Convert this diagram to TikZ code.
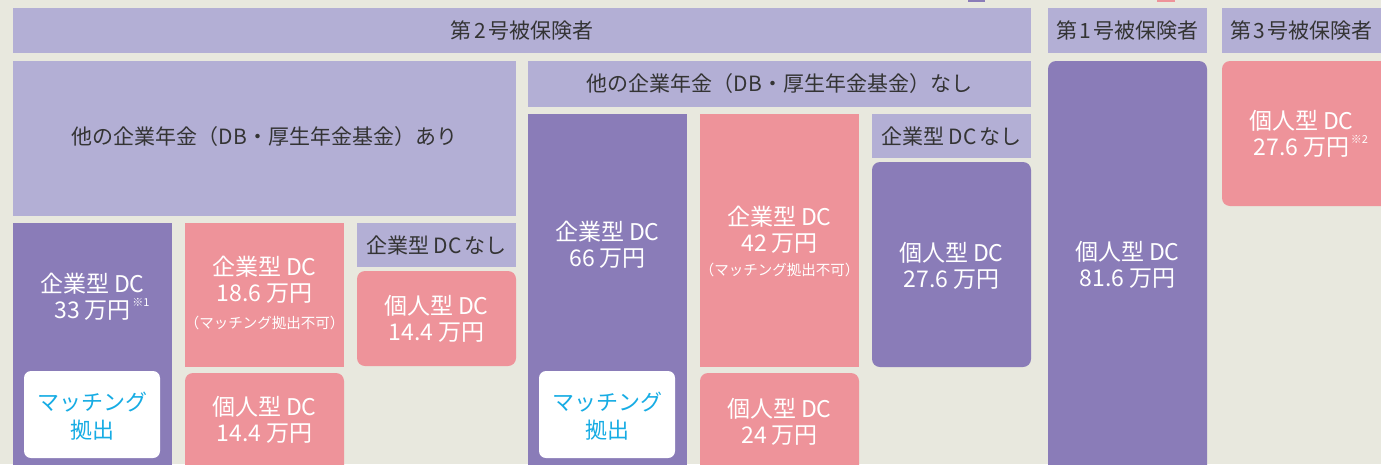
\documentclass[tikz,border=0pt]{standalone}
\usepackage{fontspec}
\setmainfont{Noto Sans CJK JP}
\definecolor{bg}{RGB}{232,232,222}
\definecolor{lav}{RGB}{179,175,213}
\definecolor{pur}{RGB}{138,124,184}
\definecolor{pinkb}{RGB}{238,147,154}
\definecolor{cyanT}{RGB}{22,172,228}
\definecolor{darkT}{RGB}{52,52,52}
\newcommand\jsp{\hspace{0.2em}}
\newcommand\hsp{\hspace{0.12em}}
\newcommand\note[1]{\makebox[0pt][l]{\raisebox{0.55em}{\fontsize{11}{11}\selectfont\,#1}}}
\begin{document}
\begin{tikzpicture}[x=1pt,y=-1pt,
  wt/.style={text=white, font=\fontsize{23}{26}\selectfont, align=center, inner sep=0pt},
  st/.style={text=white, font=\fontsize{14.5}{16}\selectfont, align=center, inner sep=0pt},
  ct/.style={text=cyanT, font=\fontsize{22}{28}\selectfont, align=center, inner sep=0pt},
  dt/.style={text=darkT, font=\fontsize{21}{24}\selectfont, inner sep=0pt},
  rnd/.style={rounded corners=8pt}
]
\useasboundingbox (0,0) rectangle (1381,464);
\clip (0,0) rectangle (1381,464);
\fill[bg] (0,0) rectangle (1381,464);

% legend squares (cut off at top)
\fill[pur] (968,-10) rectangle (985,2);
\fill[pinkb] (1157,-10) rectangle (1175,2);

% header row
\fill[lav] (13,8) rectangle (1031,53);
\node[dt] (h2) at (522,31) {第\hsp 2\hsp 号被保険者};
\fill[lav] (1048,8) rectangle (1207,53);
\node[dt] (h1) at (1127.5,31) {第\hsp 1\hsp 号被保険者};
\fill[lav] (1222,8) rectangle (1381,53);
\node[dt] (h3) at (1301.5,31) {第\hsp 3\hsp 号被保険者};

% second row headers
\fill[lav] (13,61) rectangle (516,216);
\node[dt] (ari) at (264.5,137) {他の企業年金（DB・厚生年金基金）あり};
\fill[lav] (528,61) rectangle (1031,107);
\node[dt] (nashi) at (779.5,84) {他の企業年金（DB・厚生年金基金）なし};

% left group
\fill[pur] (13,223) rectangle (172,480);
\node[wt] (k33) at (92.5,297) {企業型\jsp DC\\33\jsp 万円\note{※1}};
\fill[white, rounded corners=7pt] (24,371) rectangle (160,458);
\node[ct] (m1) at (92,416) {マッチング\\拠出};

\fill[pinkb] (185,223) rectangle (344,367);
\node[wt] (k186) at (264.5,280) {企業型\jsp DC\\18.6\jsp 万円};
\node[st] (f1) at (264.5,323) {（マッチング拠出不可）};
\fill[pinkb, rnd] (185,373) rectangle (344,480);
\node[wt] (i144a) at (264.5,420) {個人型\jsp DC\\14.4\jsp 万円};

\fill[lav] (357,223) rectangle (516,267);
\node[dt] (nk1) at (436.5,245) {企業型\jsp DC\hsp なし};
\fill[pinkb, rnd] (357,271) rectangle (516,366);
\node[wt] (i144b) at (436.5,319) {個人型\jsp DC\\14.4\jsp 万円};

% middle group
\fill[pur] (528,114) rectangle (687,480);
\node[wt] (k66) at (607.5,245) {企業型\jsp DC\\66\jsp 万円};
\fill[white, rounded corners=7pt] (539,371) rectangle (675,458);
\node[ct] (m2) at (607,416) {マッチング\\拠出};

\fill[pinkb] (700,114) rectangle (859,367);
\node[wt] (k42) at (779.5,230) {企業型\jsp DC\\42\jsp 万円};
\node[st] (f2) at (779.5,270) {（マッチング拠出不可）};
\fill[pinkb, rnd] (700,373) rectangle (859,480);
\node[wt] (i24) at (779.5,422) {個人型\jsp DC\\24\jsp 万円};

\fill[lav] (872,114) rectangle (1031,158);
\node[dt] (nk2) at (951.5,136) {企業型\jsp DC\hsp なし};
\fill[pur, rnd] (872,162) rectangle (1031,367);
\node[wt] (i276a) at (951.5,266) {個人型\jsp DC\\27.6\jsp 万円};

% 1st insured
\fill[pur, rnd] (1048,61) rectangle (1207,480);
\node[wt] (i816) at (1127.5,265) {個人型\jsp DC\\81.6\jsp 万円};

% 3rd insured
\fill[pinkb, rnd] (1222,61) rectangle (1390,206);
\node[wt] (i276b) at (1301.5,134) {個人型\jsp DC\\27.6\jsp 万円\note{※2}};
\end{tikzpicture}
\end{document}
